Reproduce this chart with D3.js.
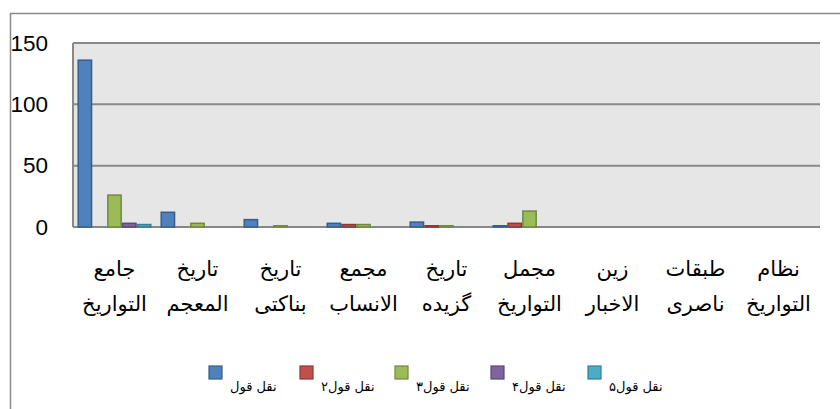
<!DOCTYPE html>
<html>
<head>
<meta charset="utf-8">
<script src="https://cdn.jsdelivr.net/npm/d3@7"></script>
<style>
  body { margin: 0; background: #fff; }
  svg { display: block; }
</style>
</head>
<body>
<div id="chart"></div>
<script>
// categories (two lines each) and series
const categories = [
  ['جامع', 'التواريخ'],
  ['تاريخ', 'المعجم'],
  ['تاريخ', 'بناكتى'],
  ['مجمع', 'الانساب'],
  ['تاريخ', 'گزيده'],
  ['مجمل', 'التواريخ'],
  ['زين', 'الاخبار'],
  ['طبقات', 'ناصرى'],
  ['نظام', 'التواريخ'],
];
const seriesNames = ['نقل قول', 'نقل قول۲', 'نقل قول۳', 'نقل قول۴', 'نقل قول۵'];
const s1 = [136, 12, 6, 3, 4, 1, 0, 0, 0];
const s2 = [0, 0, 0, 2, 1, 3, 0, 0, 0];
const s3 = [26, 3, 1, 2, 1, 13, 0, 0, 0];
const s4 = [3, 0, 0, 0, 0, 0, 0, 0, 0];
const s5 = [2, 0, 0, 0, 0, 0, 0, 0, 0];
const yTicks = [0, 50, 100, 150];

const fills = ['#4F81BD', '#C0504D', '#9BBB59', '#8064A2', '#4BACC6'];
const strokes = ['#385D8A', '#8C3836', '#71893F', '#5C4776', '#357D91'];

const width = 840, height = 409;
const plot = { left: 73, right: 820, top: 43, bottom: 227 };

const svg = d3.select('#chart').append('svg')
  .attr('width', width)
  .attr('height', height);

// outer frame (only top and left visible)
svg.append('path')
  .attr('d', `M10.5,${height} V13.5 H${width}`)
  .attr('fill', 'none')
  .attr('stroke', '#8a8a8a')
  .attr('stroke-width', 1.5);

const catKeys = categories.map((d, i) => i);
const x0 = d3.scaleBand()
  .domain(catKeys)
  .range([plot.left, plot.right])
  .paddingInner(0.09)
  .paddingOuter(0.045);

const x1 = d3.scaleBand()
  .domain(d3.range(seriesNames.length))
  .range([0, x0.bandwidth()])
  .padding(0.1);

const y = d3.scaleLinear().domain([0, 150]).range([plot.bottom, plot.top]);

// plot background
svg.append('rect')
  .attr('x', plot.left)
  .attr('y', plot.top)
  .attr('width', plot.right - plot.left)
  .attr('height', plot.bottom - plot.top)
  .attr('fill', '#E6E6E6');

// gridlines
svg.append('g')
  .selectAll('line')
  .data(yTicks)
  .enter()
  .append('line')
  .attr('x1', plot.left)
  .attr('x2', plot.right)
  .attr('y1', (d) => y(d))
  .attr('y2', (d) => y(d))
  .attr('stroke', '#888')
  .attr('stroke-width', 2);

// left axis line
svg.append('line')
  .attr('x1', plot.left).attr('x2', plot.left)
  .attr('y1', plot.top).attr('y2', plot.bottom)
  .attr('stroke', '#888')
  .attr('stroke-width', 2);

// y labels
const yAxis = d3.axisLeft(y).tickValues(yTicks).tickSize(0).tickPadding(0);
const yg = svg.append('g')
  .attr('transform', 'translate(48,0)')
  .call(yAxis);
yg.select('.domain').remove();
yg.selectAll('text')
  .attr('font-family', 'Liberation Sans, Arial, sans-serif')
  .attr('font-size', 22.5)
  .attr('fill', '#000');

// bars
const series = [s1, s2, s3, s4, s5];
series.forEach((vals, si) => {
  svg.append('g')
    .selectAll('rect')
    .data(vals.map((v, ci) => ({ v, ci })).filter((d) => d.v > 0))
    .enter()
    .append('rect')
    .attr('x', (d) => x0(d.ci) + x1(si))
    .attr('y', (d) => y(d.v))
    .attr('width', x1.bandwidth())
    .attr('height', (d) => y(0) - y(d.v))
    .attr('fill', fills[si])
    .attr('stroke', strokes[si])
    .attr('stroke-width', 1.5);
});

// category labels
const catG = svg.append('g')
  .attr('font-family', 'DejaVu Sans, sans-serif')
  .attr('font-size', 21)
  .attr('fill', '#000')
  .attr('text-anchor', 'middle');

categories.forEach((lines, i) => {
  const cx = x0(i) + x0.bandwidth() / 2;
  lines.forEach((t, li) => {
    catG.append('text')
      .attr('x', cx)
      .attr('y', 276 + li * 35)
      .text(t);
  });
});

// legend
const legendX = [209, 300, 395, 491, 588];
const lg = svg.append('g');
seriesNames.forEach((name, i) => {
  lg.append('rect')
    .attr('x', legendX[i])
    .attr('y', 366)
    .attr('width', 13)
    .attr('height', 13)
    .attr('fill', fills[i])
    .attr('stroke', strokes[i])
    .attr('stroke-width', 1.2);
  lg.append('text')
    .attr('x', legendX[i] + 21)
    .attr('y', 391)
    .attr('font-family', 'DejaVu Sans, sans-serif')
    .attr('font-size', 13)
    .attr('fill', '#000')
    .text(name);
});
</script>
</body>
</html>
